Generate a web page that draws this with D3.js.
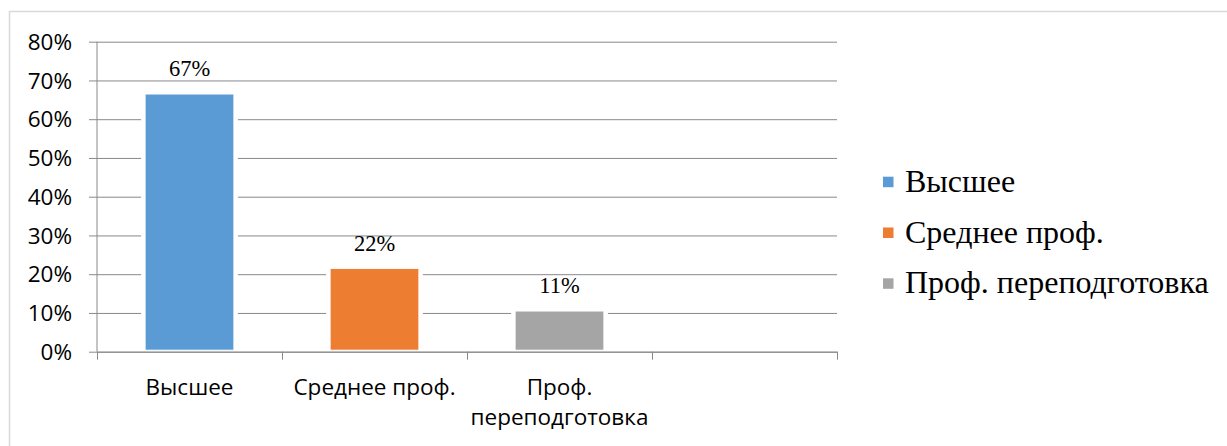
<!DOCTYPE html>
<html>
<head>
<meta charset="utf-8">
<script src="https://cdn.jsdelivr.net/npm/d3@7"></script>
<style>
  html, body { margin: 0; padding: 0; background: #fff; }
  svg { display: block; }
</style>
</head>
<body>
<svg id="chart" width="1227" height="446"></svg>
<script>
// ---- data ----
const categories = ["Высшее", "Среднее проф.", "Проф. переподготовка", ""];
const categoryLines = [["Высшее"], ["Среднее проф."], ["Проф.", "переподготовка"], [""]];
const values = [0.665, 0.215, 0.105, null];
const valueLabels = ["67%", "22%", "11%", ""];
const seriesColors = ["#5b9bd5", "#ed7d31", "#a5a5a5"];
const yTicks = [0, 0.1, 0.2, 0.3, 0.4, 0.5, 0.6, 0.7, 0.8];
const legendItems = ["Высшее", "Среднее проф.", "Проф. переподготовка"];

// ---- layout ----
const svg = d3.select("#chart");
const pLeft = 97, pRight = 837, pTop = 41.7, pBottom = 351.7;
const gridColor = "#898989";
const sansFont = "'Open Sans', 'Liberation Sans', sans-serif";
const serifFont = "'Liberation Serif', 'DejaVu Serif', serif";

// outer frame (only left/top visible)
svg.append("rect")
  .attr("x", 9.5).attr("y", 11.5).attr("width", 1400).attr("height", 600)
  .attr("fill", "none").attr("stroke", "#d9d9d9").attr("stroke-width", 1.5);

const y = d3.scaleLinear().domain([0, 0.8]).range([pBottom, pTop]);
const x = d3.scaleBand().domain(categories.map((c, i) => i))
  .range([pLeft, pRight]).paddingInner(0.52).paddingOuter(0.26);
const xSlots = d3.scaleBand().domain(categories.map((c, i) => i))
  .range([pLeft, pRight]).padding(0);

// y axis with gridlines
const yAxis = d3.axisLeft(y)
  .tickValues(yTicks)
  .tickFormat(d3.format(".0%"))
  .tickSize(-(pRight - pLeft + 8))
  .tickPadding(17);
const yg = svg.append("g").attr("transform", `translate(${pLeft - 8},0)`).call(yAxis);
yg.select(".domain").remove();
yg.selectAll(".tick line").attr("stroke", gridColor).attr("stroke-width", 1);
yg.selectAll(".tick text")
  .attr("font-family", sansFont).attr("font-size", 22.5).attr("fill", "#000")
  .attr("dy", "0.34em");

// white halos around bars (interrupting gridlines)
const barData = values.map((v, i) => ({ v, i })).filter(d => d.v != null);
svg.append("g").selectAll("rect").data(barData).join("rect")
  .attr("x", d => x(d.i) - 4)
  .attr("y", d => y(d.v) - 4)
  .attr("width", x.bandwidth() + 8)
  .attr("height", d => pBottom - y(d.v) + 2)
  .attr("fill", "#fff");

// bars
svg.append("g").selectAll("rect").data(barData).join("rect")
  .attr("x", d => x(d.i))
  .attr("y", d => y(d.v))
  .attr("width", x.bandwidth())
  .attr("height", d => pBottom - 1.5 - y(d.v))
  .attr("fill", d => seriesColors[d.i])
  .attr("stroke", "#ffffff").attr("stroke-width", 1);

// value labels
svg.append("g").selectAll("text").data(barData).join("text")
  .attr("x", d => x(d.i) + x.bandwidth() / 2)
  .attr("y", d => y(d.v) - 17.8)
  .attr("text-anchor", "middle")
  .attr("font-family", serifFont).attr("font-size", 22.5).attr("fill", "#000")
  .text(d => valueLabels[d.i]);

// y axis line
svg.append("line")
  .attr("x1", pLeft).attr("x2", pLeft).attr("y1", pTop).attr("y2", pBottom)
  .attr("stroke", gridColor).attr("stroke-width", 1);

// x axis (category boundaries as ticks)
const xAxis = d3.axisBottom(d3.scaleLinear().domain([0, categories.length]).range([pLeft, pRight]))
  .ticks(categories.length).tickFormat("").tickSize(8).tickSizeOuter(0);
const xg = svg.append("g").attr("transform", `translate(0,${pBottom})`).call(xAxis);
xg.select(".domain").attr("stroke", gridColor);
xg.selectAll(".tick line").attr("stroke", gridColor);

// category labels
const catG = svg.append("g");
categoryLines.forEach((lines, i) => {
  const cx = xSlots(i) + xSlots.bandwidth() / 2;
  const t = catG.append("text")
    .attr("text-anchor", "middle")
    .attr("font-family", sansFont).attr("font-size", 22.5).attr("fill", "#000");
  lines.forEach((ln, j) => {
    t.append("tspan").attr("x", cx).attr("y", 395 + j * 30).text(ln);
  });
});

// legend
const legend = svg.append("g");
legendItems.forEach((name, i) => {
  const by = 191.7 + i * 50.8;
  legend.append("rect")
    .attr("x", 883).attr("y", by - 15).attr("width", 10.5).attr("height", 10.5)
    .attr("fill", seriesColors[i]);
  legend.append("text")
    .attr("x", 905).attr("y", by)
    .attr("font-family", serifFont).attr("font-size", 32).attr("fill", "#000")
    .text(name);
});
</script>
</body>
</html>
